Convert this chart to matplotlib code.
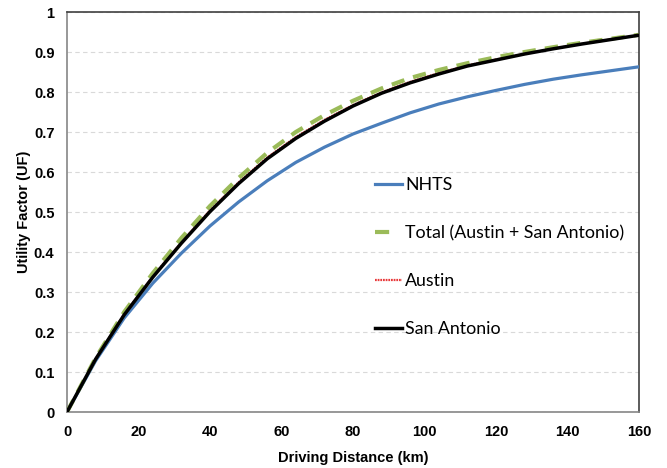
import matplotlib
matplotlib.use("Agg")
import matplotlib.pyplot as plt
from matplotlib.lines import Line2D

# Driving distance (km) and utility factor curves
distance_km = [0, 8, 16, 24, 32, 40, 48, 56, 64, 72, 80, 88, 96, 104, 112, 120, 128, 136, 144, 152, 160]
uf_nhts = [0, 0.128, 0.235, 0.322, 0.397, 0.465, 0.525, 0.578, 0.624, 0.662, 0.695, 0.722, 0.748,
           0.770, 0.788, 0.804, 0.819, 0.832, 0.843, 0.853, 0.863]
uf_total = [0, 0.135, 0.250, 0.347, 0.435, 0.515, 0.585, 0.648, 0.700, 0.742, 0.778, 0.809, 0.835,
            0.855, 0.872, 0.887, 0.900, 0.912, 0.923, 0.933, 0.943]
uf_austin = [0, 0.133, 0.246, 0.340, 0.425, 0.505, 0.575, 0.637, 0.688, 0.731, 0.768, 0.800, 0.826,
             0.848, 0.867, 0.882, 0.896, 0.909, 0.921, 0.932, 0.942]
uf_san_antonio = [0, 0.132, 0.243, 0.337, 0.422, 0.501, 0.571, 0.633, 0.684, 0.727, 0.765, 0.797, 0.823,
                  0.845, 0.865, 0.880, 0.895, 0.908, 0.920, 0.931, 0.942]

x_ticks = [0, 20, 40, 60, 80, 100, 120, 140, 160]
y_ticks = [0, 0.1, 0.2, 0.3, 0.4, 0.5, 0.6, 0.7, 0.8, 0.9, 1]
y_tick_labels = ["0", "0.1", "0.2", "0.3", "0.4", "0.5", "0.6", "0.7", "0.8", "0.9", "1"]

plt.rcParams["font.family"] = ["Liberation Sans", "DejaVu Sans"]

fig = plt.figure(figsize=(6.67, 4.68), dpi=100)
ax = fig.add_axes([67 / 667, 56 / 468, 572 / 667, 400 / 468])

ax.plot(distance_km, uf_austin, color="#e8393a", lw=1.2, ls=(0, (1, 0.6)), zorder=2)
ax.plot(distance_km, uf_nhts, color="#4a7ebb", lw=2.3, zorder=3)
ax.plot(distance_km, uf_total, color="#9bbb59", lw=3.0, ls=(0, (3.2, 2.2)), zorder=4)
ax.plot(distance_km, uf_san_antonio, color="#000000", lw=2.5, zorder=5)

ax.set_xlim(0, 160)
ax.set_ylim(0, 1)
ax.set_xticks(x_ticks)
ax.set_yticks(y_ticks)
ax.set_yticklabels(y_tick_labels)
ax.tick_params(length=0, labelsize=10.5, pad=9)
for lbl in ax.get_xticklabels() + ax.get_yticklabels():
    lbl.set_fontweight("bold")

ax.grid(axis="y", color="#d9d9d9", ls=(0, (4, 3)), lw=0.8)
ax.set_axisbelow(True)

ax.spines["left"].set_color("#868686")
ax.spines["bottom"].set_color("#868686")
ax.spines["top"].set_color("#404040")
ax.spines["right"].set_color("#404040")
for s in ax.spines.values():
    s.set_linewidth(1.2)

ax.set_xlabel("Driving Distance (km)", fontsize=10.5, fontweight="bold", labelpad=9)
ax.set_ylabel("Utility Factor (UF)", fontsize=10.5, fontweight="bold", labelpad=2)

handles = [
    Line2D([], [], color="#4a7ebb", lw=2.3),
    Line2D([], [], color="#9bbb59", lw=3.0, ls=(0, (3.4, 10))),
    Line2D([], [], color="#e8393a", lw=1.6, ls=(0, (0.8, 0.4))),
    Line2D([], [], color="#000000", lw=2.5),
]
labels = ["NHTS", "Total (Austin + San Antonio)", "Austin", "San Antonio"]
leg = ax.legend(handles, labels, loc="upper left", bbox_to_anchor=(0.526, 0.605),
                frameon=False, prop={"family": "Lato", "size": 12.8},
                handlelength=1.5, handletextpad=0.2, labelspacing=1.8,
                borderaxespad=0)

fig.savefig("out.png", dpi=100, facecolor="white")
